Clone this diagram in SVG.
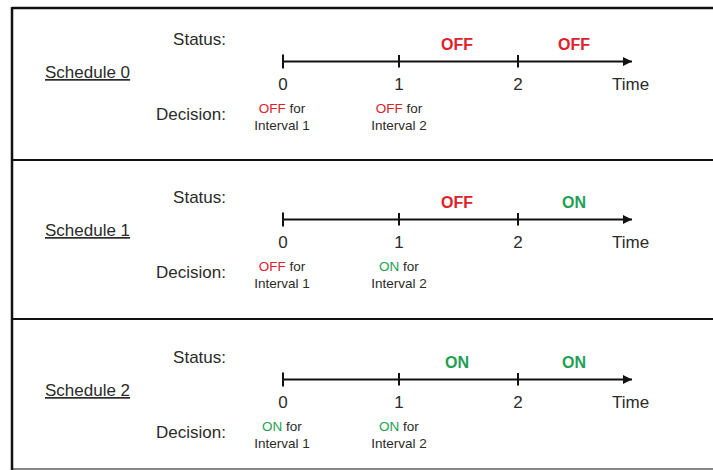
<svg xmlns="http://www.w3.org/2000/svg" width="713" height="470" viewBox="0 0 713 470">
<defs>
<marker id="arr" viewBox="0 0 10 10" refX="10" refY="5" markerWidth="4.5" markerHeight="4.5" orient="auto" markerUnits="strokeWidth">
<path d="M0,0 L10,5 L0,10 z" fill="#111"/>
</marker>
<style>
text{font-family:"Liberation Sans",Arial,sans-serif;fill:#2b2b2b}
.lbl{font-size:17px}
.sch{font-size:17px;text-decoration:underline}
.st{font-size:16px;font-weight:bold;text-anchor:middle}
.sm{font-size:13.5px;text-anchor:middle}
.mid{text-anchor:middle}
.end{text-anchor:end}
.off{fill:#e0202a}
.on{fill:#1f9e55}
.ax{stroke:#111;stroke-width:2;fill:none}
.tk{stroke:#111;stroke-width:2}
.frame{stroke:#111;fill:none}
</style>
</defs>
<rect width="713" height="470" fill="#fff"/>
<g id="frame">
<line class="frame" x1="12" y1="8" x2="713" y2="8" stroke-width="2.5"/>
<line class="frame" x1="12" y1="7" x2="12" y2="470" stroke-width="2.5"/>
<line class="frame" x1="12" y1="160" x2="713" y2="160" stroke-width="1.8"/>
<line class="frame" x1="12" y1="319" x2="713" y2="319" stroke-width="1.8"/>
<line class="frame" x1="12" y1="469" x2="713" y2="469" stroke-width="1" stroke="#bbb"/>
</g>
<g id="connectors">
<g transform="translate(0,0)">
<line class="ax" x1="283" y1="61.5" x2="632" y2="61.5" marker-end="url(#arr)"/>
<line class="tk" x1="283" y1="54.5" x2="283" y2="68.5"/>
<line class="tk" x1="399" y1="55" x2="399" y2="67.5"/>
<line class="tk" x1="518" y1="55" x2="518" y2="67.5"/>
</g>
<g transform="translate(0,158)">
<line class="ax" x1="283" y1="61.5" x2="632" y2="61.5" marker-end="url(#arr)"/>
<line class="tk" x1="283" y1="54.5" x2="283" y2="68.5"/>
<line class="tk" x1="399" y1="55" x2="399" y2="67.5"/>
<line class="tk" x1="518" y1="55" x2="518" y2="67.5"/>
</g>
<g transform="translate(0,318)">
<line class="ax" x1="283" y1="61.5" x2="632" y2="61.5" marker-end="url(#arr)"/>
<line class="tk" x1="283" y1="54.5" x2="283" y2="68.5"/>
<line class="tk" x1="399" y1="55" x2="399" y2="67.5"/>
<line class="tk" x1="518" y1="55" x2="518" y2="67.5"/>
</g>
</g>
<g id="schedule0">
<text class="sch" x="45" y="78">Schedule 0</text>
<text class="lbl end" x="226" y="45">Status:</text>
<text class="lbl end" x="226" y="120">Decision:</text>
<text class="st off" x="457" y="50">OFF</text>
<text class="st off" x="574" y="50">OFF</text>
<text class="lbl mid" x="283" y="90">0</text>
<text class="lbl mid" x="399" y="90">1</text>
<text class="lbl mid" x="518" y="90">2</text>
<text class="lbl" x="612" y="90">Time</text>
<text class="sm" x="282" y="113"><tspan class="off">OFF</tspan> for</text>
<text class="sm" x="282" y="130">Interval 1</text>
<text class="sm" x="399" y="113"><tspan class="off">OFF</tspan> for</text>
<text class="sm" x="399" y="130">Interval 2</text>
</g>
<g id="schedule1" transform="translate(0,158)">
<text class="sch" x="45" y="78">Schedule 1</text>
<text class="lbl end" x="226" y="45">Status:</text>
<text class="lbl end" x="226" y="120">Decision:</text>
<text class="st off" x="457" y="50">OFF</text>
<text class="st on" x="574" y="50">ON</text>
<text class="lbl mid" x="283" y="90">0</text>
<text class="lbl mid" x="399" y="90">1</text>
<text class="lbl mid" x="518" y="90">2</text>
<text class="lbl" x="612" y="90">Time</text>
<text class="sm" x="282" y="113"><tspan class="off">OFF</tspan> for</text>
<text class="sm" x="282" y="130">Interval 1</text>
<text class="sm" x="399" y="113"><tspan class="on">ON</tspan> for</text>
<text class="sm" x="399" y="130">Interval 2</text>
</g>
<g id="schedule2" transform="translate(0,318)">
<text class="sch" x="45" y="78">Schedule 2</text>
<text class="lbl end" x="226" y="45">Status:</text>
<text class="lbl end" x="226" y="120">Decision:</text>
<text class="st on" x="457" y="50">ON</text>
<text class="st on" x="574" y="50">ON</text>
<text class="lbl mid" x="283" y="90">0</text>
<text class="lbl mid" x="399" y="90">1</text>
<text class="lbl mid" x="518" y="90">2</text>
<text class="lbl" x="612" y="90">Time</text>
<text class="sm" x="282" y="113"><tspan class="on">ON</tspan> for</text>
<text class="sm" x="282" y="130">Interval 1</text>
<text class="sm" x="399" y="113"><tspan class="on">ON</tspan> for</text>
<text class="sm" x="399" y="130">Interval 2</text>
</g>
</svg>
